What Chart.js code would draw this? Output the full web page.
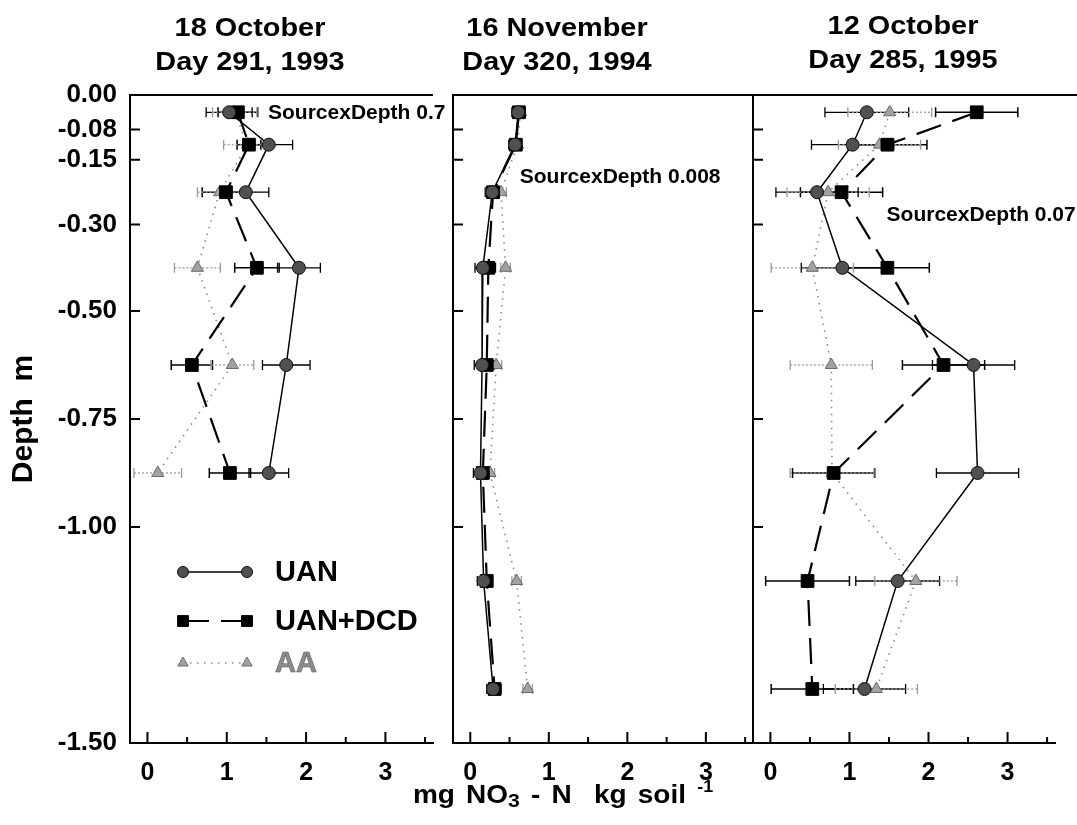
<!DOCTYPE html>
<html>
<head>
<meta charset="utf-8">
<script src="https://cdn.jsdelivr.net/npm/chart.js@4.4.0/dist/chart.umd.min.js"></script>
<style>
html,body{margin:0;padding:0;background:#fff;}
#wrap{position:relative;width:1077px;height:825px;overflow:hidden;font-family:"Liberation Sans",Arial,sans-serif;}
.cv{position:absolute;top:0;}
.ttl{position:absolute;top:10px;font-weight:bold;font-size:26px;line-height:34px;text-align:center;white-space:nowrap;transform:translateX(-50%) scaleX(1.11);color:#000;}
#xlab{position:absolute;top:772px;left:563px;font-weight:bold;font-size:25px;line-height:30px;white-space:nowrap;transform:translateX(-50%) scaleX(1.12);word-spacing:3px;color:#000;}
#xlab sub{font-size:19px;vertical-align:-4px;}
#xlab sup{font-size:16px;vertical-align:11px;}
</style>
</head>
<body>
<div id="wrap">
  <div class="cv" style="left:0"><canvas id="c93" width="448" height="825"></canvas></div>
  <div class="cv" style="left:448px"><canvas id="c94" width="305" height="825"></canvas></div>
  <div class="cv" style="left:748px"><canvas id="c95" width="329" height="825"></canvas></div>
  <div class="ttl" style="left:250px">18 October<br>Day 291, 1993</div>
  <div class="ttl" style="left:557px">16 November<br>Day 320, 1994</div>
  <div class="ttl" style="left:903px;top:8px">12 October<br>Day 285, 1995</div>
  <div id="xlab">mg NO<sub>3</sub> - N &nbsp;kg soil <sup>-1</sup></div>
</div>
<script>
const FONT = '"Liberation Sans", Arial, sans-serif';

// depth of each sampled layer (mid point), m
const depths93 = [-0.04, -0.115, -0.225, -0.40, -0.625, -0.875];
const depths = [-0.04, -0.115, -0.225, -0.40, -0.625, -0.875, -1.125, -1.375];

// axis ticks
const yTickVals = [0, -0.08, -0.15, -0.30, -0.50, -0.75, -1.00, -1.50];
const xTickVals = [0, 0.5, 1, 1.5, 2, 2.5, 3, 3.5];

// 18 October 1993
const uan93 = [1.03, 1.53, 1.24, 1.91, 1.75, 1.53];
const dcd93 = [1.14, 1.28, 0.99, 1.38, 0.56, 1.04];
const aa93  = [1.10, 1.26, 0.91, 0.63, 1.07, 0.13];
const uanErr93 = [0.29, 0.30, 0.29, 0.27, 0.30, 0.25];
const dcdErr93 = [0.25, 0.15, 0.30, 0.28, 0.26, 0.26];
const aaErr93  = [0.28, 0.30, 0.28, 0.29, 0.27, 0.30];

// 16 November 1994
const uan94 = [0.61, 0.57, 0.28, 0.16, 0.15, 0.13, 0.17, 0.29];
const dcd94 = [0.62, 0.58, 0.29, 0.23, 0.21, 0.16, 0.21, 0.31];
const aa94  = [0.64, 0.60, 0.39, 0.45, 0.33, 0.25, 0.59, 0.73];
const uanErr94 = [0.08, 0.08, 0.09, 0.10, 0.10, 0.09, 0.08, 0.08];
const dcdErr94 = [0.07, 0.07, 0.08, 0.09, 0.09, 0.08, 0.07, 0.08];
const aaErr94  = [0.06, 0.06, 0.07, 0.06, 0.07, 0.06, 0.06, 0.06];

// 12 October 1995
const uan95 = [1.22, 1.04, 0.59, 0.91, 2.57, 2.62, 1.61, 1.19];
const dcd95 = [2.61, 1.48, 0.90, 1.48, 2.19, 0.80, 0.47, 0.53];
const aa95  = [1.51, 1.38, 0.73, 0.53, 0.77, 0.78, 1.84, 1.34];
const uanErr95 = [0.53, 0.52, 0.52, 0.52, 0.52, 0.52, 0.53, 0.52];
const dcdErr95 = [0.52, 0.50, 0.52, 0.53, 0.52, 0.52, 0.53, 0.52];
const aaErr95  = [0.53, 0.52, 0.52, 0.52, 0.52, 0.53, 0.52, 0.52];

const seriesNames = ['UAN', 'UAN+DCD', 'AA'];

const styleUAN = {borderColor:'#000', borderWidth:1.5, pointStyle:'circle', pointRadius:6.5,
  pointBackgroundColor:'#505050', pointBorderColor:'#111', pointBorderWidth:1,
  errColor:'#000', errWidth:1.3, errDash:[]};
const styleDCD = {borderColor:'#000', borderWidth:2.2, borderDash:[26,12], pointStyle:'rect', pointRadius:9,
  pointBackgroundColor:'#000', pointBorderColor:'#000', pointBorderWidth:1,
  errColor:'#000', errWidth:1.5, errDash:[]};
const styleAA = {borderColor:'#8a8a8a', borderWidth:1.6, borderDash:[1.5,5.5], pointStyle:'triangle', pointRadius:7,
  pointBackgroundColor:'#a2a2a2', pointBorderColor:'#6a6a6a', pointBorderWidth:1,
  errColor:'#9a9a9a', errWidth:1.3, errDash:[2,2], textColor:'#8c8c8c'};

function series(label, xs, ys, errs, style){
  return Object.assign({label, data: xs.map((v,i)=>({x:v, y:ys[i]})), errors: errs, showLine:true}, style);
}

// horizontal error bars with end caps
const errorBars = {
  id:'errorBars',
  beforeDatasetsDraw(chart){
    const {ctx, scales:{x, y}} = chart;
    chart.data.datasets.forEach(ds=>{
      ctx.save();
      ctx.strokeStyle = ds.errColor; ctx.lineWidth = ds.errWidth;
      ds.data.forEach((p,i)=>{
        const e = ds.errors[i];
        const x0 = x.getPixelForValue(p.x - e), x1 = x.getPixelForValue(p.x + e), py = y.getPixelForValue(p.y);
        ctx.setLineDash(ds.errDash);
        ctx.beginPath(); ctx.moveTo(x0, py); ctx.lineTo(x1, py); ctx.stroke();
        ctx.setLineDash([]);
        ctx.beginPath();
        ctx.moveTo(x0, py-5); ctx.lineTo(x0, py+5);
        ctx.moveTo(x1, py-5); ctx.lineTo(x1, py+5);
        ctx.stroke();
      });
      ctx.restore();
    });
  }
};

// tick marks pointing into the plot, top frame line, text notes, legend
const decor = {
  id:'decor',
  afterDraw(chart, args, opts){
    const {ctx, chartArea:a, scales:{x, y}} = chart;
    ctx.save();
    ctx.strokeStyle = '#000'; ctx.lineWidth = 2;
    ctx.beginPath();
    xTickVals.forEach(v=>{
      const px = x.getPixelForValue(v);
      const len = Number.isInteger(v) ? 11 : 6;
      ctx.moveTo(px, a.bottom); ctx.lineTo(px, a.bottom - len);
    });
    yTickVals.forEach(v=>{
      if (v === 0 || v === -1.5) return;
      const py = y.getPixelForValue(v);
      ctx.moveTo(a.left, py); ctx.lineTo(a.left + 10, py);
    });
    // top frame
    ctx.moveTo(a.left, a.top); ctx.lineTo(a.right + (opts.extend || 0), a.top);
    if (opts.rightLine){ ctx.moveTo(a.right, a.top); ctx.lineTo(a.right, a.bottom); }
    ctx.stroke();

    (opts.notes || []).forEach(n=>{
      ctx.font = 'bold 21px ' + FONT;
      ctx.fillStyle = '#000'; ctx.textAlign = 'left'; ctx.textBaseline = 'middle';
      ctx.fillText(n.text, x.getPixelForValue(n.x), y.getPixelForValue(n.y));
    });

    if (opts.legend){
      const L = opts.legend;
      chart.data.datasets.forEach((ds, i)=>{
        const ly = L.ys[i];
        ctx.strokeStyle = ds.borderColor; ctx.lineWidth = ds.borderWidth;
        ctx.setLineDash(ds.borderDash || []);
        ctx.beginPath(); ctx.moveTo(L.x0, ly); ctx.lineTo(L.x1, ly); ctx.stroke();
        ctx.setLineDash([]);
        ctx.fillStyle = ds.pointBackgroundColor; ctx.strokeStyle = ds.pointBorderColor; ctx.lineWidth = ds.pointBorderWidth;
        [L.x0, L.x1].forEach(px=>{
          Chart.helpers.drawPoint(ctx, {pointStyle: ds.pointStyle, radius: ds.pointRadius * 0.85, rotation:0, borderWidth: ds.pointBorderWidth}, px, ly);
        });
        ctx.font = 'bold 29px ' + FONT;
        ctx.textAlign = 'left'; ctx.textBaseline = 'middle';
        ctx.fillStyle = ds.textColor || '#000';
        ctx.fillText(seriesNames[i], L.tx, ly + 1);
        if (ds.textColor){ ctx.strokeStyle = '#555'; ctx.lineWidth = 0.6; ctx.strokeText(seriesNames[i], L.tx, ly + 1); }
      });
    }
    ctx.restore();
  }
};

function xScale(){
  return {
    type:'linear', min:-0.22, max:3.6,
    afterBuildTicks: s => { s.ticks = xTickVals.map(v=>({value:v})); },
    afterFit: s => { s.height = 82; s.paddingLeft = 0; s.paddingRight = 0; },
    ticks:{ callback: v => Number.isInteger(v) ? String(v) : '', autoSkip:false, maxRotation:0,
      font:{family:FONT, size:25, weight:'bold'}, color:'#000', padding:15 },
    grid:{ drawOnChartArea:false, drawTicks:false },
    border:{ display:true, color:'#000', width:2 }
  };
}

function yScale(labels){
  return {
    type:'linear', min:-1.5, max:0,
    afterBuildTicks: s => { s.ticks = yTickVals.map(v=>({value:v})); },
    afterFit: s => { s.width = labels ? 130 : 0; s.paddingTop = 0; s.paddingBottom = 0; },
    ticks:{ display:labels, autoSkip:false, callback: v => v.toFixed(2),
      font:{family:FONT, size:26, weight:'bold'}, color:'#000', padding:13 },
    grid:{ drawOnChartArea:false, drawTicks:false },
    border:{ display:true, color:'#000', width:2 },
    title:{ display:labels, text:'Depth  m', color:'#000', font:{family:FONT, size:30, weight:'bold'}, padding:{top:6, bottom:0} }
  };
}

function makeChart(id, ys, uan, dcd, aa, errs, pad, decorOpts, labels){
  return new Chart(document.getElementById(id), {
    type:'scatter',
    data:{ datasets:[
      series('UAN', uan, ys, errs[0], styleUAN),
      series('UAN+DCD', dcd, ys, errs[1], styleDCD),
      series('AA', aa, ys, errs[2], styleAA)
    ]},
    options:{
      responsive:false, animation:false, events:[],
      layout:{ padding: pad, autoPadding:false },
      scales:{ x: xScale(), y: yScale(labels) },
      plugins:{ legend:{display:false}, tooltip:{enabled:false}, decor: decorOpts }
    },
    plugins:[errorBars, decor]
  });
}

makeChart('c93', depths93, uan93, dcd93, aa93, [uanErr93, dcdErr93, aaErr93],
  {top:95, left:0, right:15, bottom:0},
  { extend:0, notes:[{text:'SourcexDepth 0.7', x:1.52, y:-0.042}],
    legend:{x0:183, x1:247, tx:275, ys:[572, 621, 663]} }, true);

makeChart('c94', depths, uan94, dcd94, aa94, [uanErr94, dcdErr94, aaErr94],
  {top:95, left:5, right:0, bottom:0},
  { extend:0, rightLine:true, notes:[{text:'SourcexDepth 0.008', x:0.63, y:-0.19}] }, false);

makeChart('c95', depths, uan95, dcd95, aa95, [uanErr95, dcdErr95, aaErr95],
  {top:95, left:5, right:22, bottom:0},
  { extend:22, notes:[{text:'SourcexDepth 0.07', x:1.47, y:-0.278}] }, false);
</script>
</body>
</html>
